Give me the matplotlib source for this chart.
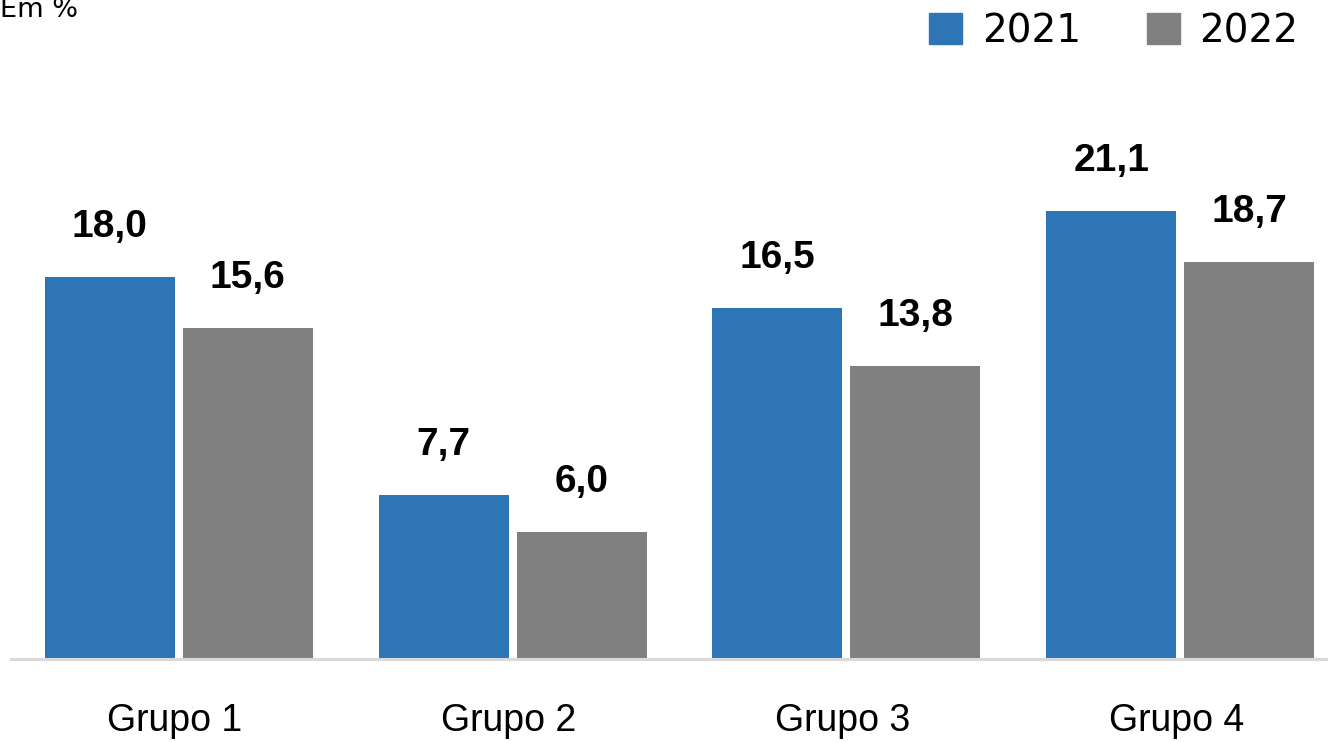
import matplotlib
matplotlib.use("Agg")
import matplotlib.pyplot as plt
import numpy as np
from matplotlib.patches import Rectangle

categories = ["Grupo 1", "Grupo 2", "Grupo 3", "Grupo 4"]
series_names = ["2021", "2022"]
values_2021 = [18.0, 7.7, 16.5, 21.1]
values_2022 = [15.6, 6.0, 13.8, 18.7]
unit_label = "Em %"

blue = "#2E75B6"
gray = "#808080"

fig = plt.figure(figsize=(13.28, 7.42), dpi=100)
ax = fig.add_axes([11/1328, 83/742, 1 - 11/1328, 1 - 83/742])

x = np.arange(len(categories))
w = 130/334
gap = 8/334
off = (w + gap) / 2

b1 = ax.bar(x - off, values_2021, width=w, color=blue, zorder=2)
b2 = ax.bar(x + off, values_2022, width=w, color=gray, zorder=2)

def fmt(v):
    return f"{v:.1f}".replace(".", ",")

for bars, vals in ((b1, values_2021), (b2, values_2022)):
    for r, v in zip(bars, vals):
        ax.annotate(fmt(v), (r.get_x() + r.get_width()/2, v),
                    xytext=(0, 23), textcoords="offset points",
                    ha="center", va="bottom", fontsize=28,
                    fontweight="bold", family="Liberation Sans", color="#000000")

ax.set_xlim(-0.503, 3.443)
ax.set_ylim(0, 659/21.25)
ax.axhline(0, color="#D9D9D9", lw=2.2, zorder=3, clip_on=False)
for s in ax.spines.values():
    s.set_visible(False)
ax.set_yticks([])
ax.set_xticks(x - 0.012)
ax.set_xticklabels(categories, fontsize=27, family="Liberation Sans", color="#000000")
ax.tick_params(axis="x", length=0, pad=32)

fig.text(0.0, 1 - 17/742, unit_label, fontsize=19.5, ha="left", va="baseline",
         family="DejaVu Sans", color="#000000")

# legend
leg = fig.legend(handles=[Rectangle((0, 0), 1, 1, color=blue), Rectangle((0, 0), 1, 1, color=gray)],
                 labels=series_names, loc="upper right", bbox_to_anchor=(0.9895, 1.0045),
                 ncol=2, frameon=False, handlelength=0.85, handleheight=0.85,
                 handletextpad=0.5, columnspacing=1.7, borderaxespad=0.0,
                 prop={"family": "DejaVu Sans", "size": 28})

fig.savefig("out.png", dpi=100)
